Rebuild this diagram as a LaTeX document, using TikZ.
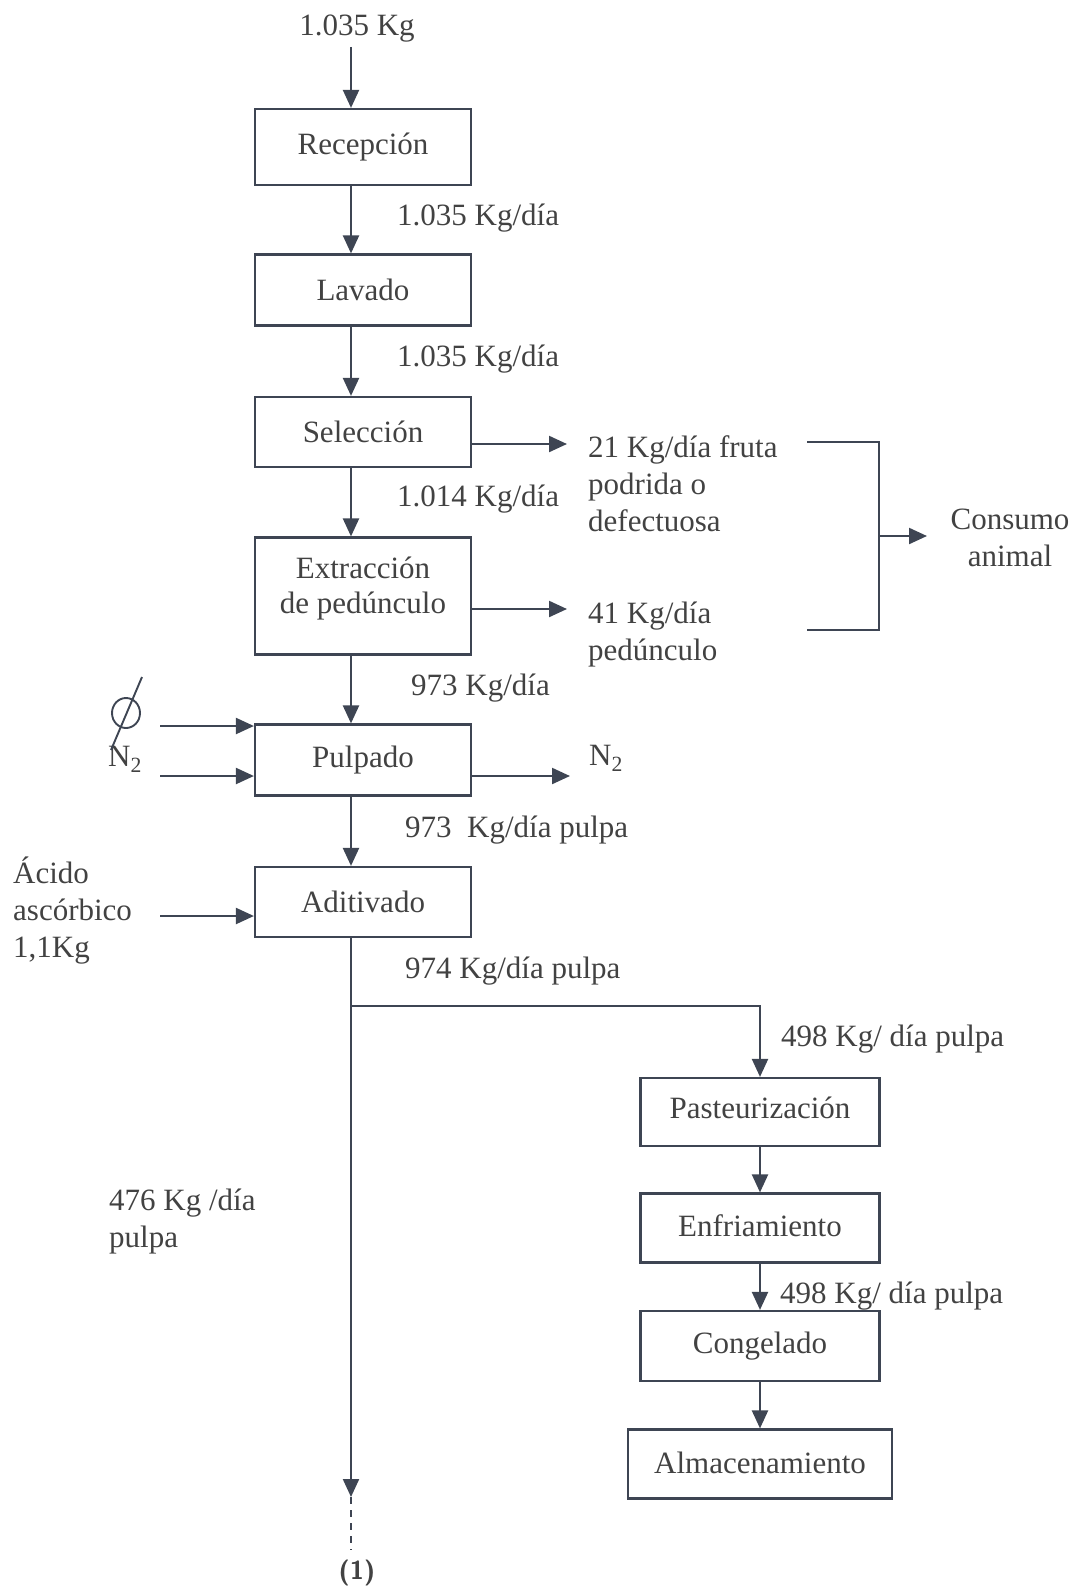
\documentclass[tikz,border=0pt]{standalone}
\usepackage{fontspec}
\setmainfont{Liberation Serif}
\usetikzlibrary{arrows.meta,calc}
\definecolor{ink}{HTML}{3E4553}
\definecolor{txt}{HTML}{424242}
\begin{document}
\begin{tikzpicture}[x=1pt,y=-1pt,
  every node/.style={font=\fontsize{31}{37}\selectfont, text=txt},
  box/.style={draw=ink, line width=2.2pt, minimum width=216pt, inner sep=0pt, align=center},
  rbox/.style={box, minimum width=239pt},
  flow/.style={draw=ink, line width=2.2pt, -{Triangle[length=18pt,width=16pt]}},
  plain/.style={draw=ink, line width=2.2pt},
  lbl/.style={anchor=west, align=left, inner sep=0pt},
]
\useasboundingbox (0,0) rectangle (1077,1588);

% main process column
\node[box, minimum height=76pt] (rec) at (363,147) {Recepción};
\node[box, minimum height=71pt] (lav) at (363,290) {Lavado};
\node[box, minimum height=70pt] (sel) at (363,432) {Selección};
\node[box, minimum height=117pt] (ext) at (363,596) {\raisebox{7pt}[\height][\depth]{\begin{tabular}{@{}c@{}}Extracción\\[-2pt]de pedúnculo\end{tabular}}};
\node[box, minimum height=71pt] (pul) at (363,760) {Pulpado};
\node[box, minimum height=70pt] (adi) at (363,902) {Aditivado};

% pulp branch column
\node[rbox, minimum height=68pt] (pas) at (760,1112) {\raisebox{8pt}{Pasteurización}};
\node[rbox, minimum height=69pt] (enf) at (760,1228) {\raisebox{4pt}{Enfriamiento}};
\node[rbox, minimum height=70pt] (con) at (760,1346) {\raisebox{3pt}{Congelado}};
\node[box, minimum width=264pt, minimum height=69pt] (alm) at (760,1464) {\raisebox{3pt}{Almacenamiento}};

% flow axis of the main column
\coordinate (mx) at (351,0);

% input
\node[inner sep=0pt] (inp) at (357,29) {1.035 Kg};
\draw[flow] (inp.south -| mx) ++(0,4) -- (rec.north -| mx);
\draw[flow] (rec.south -| mx) -- (lav.north -| mx);
\draw[flow] (lav.south -| mx) -- (sel.north -| mx);
\draw[flow] (sel.south -| mx) -- (ext.north -| mx);
\draw[flow] (ext.south -| mx) -- (pul.north -| mx);
\draw[flow] (pul.south -| mx) -- (adi.north -| mx);

% stream labels
\node[lbl] (l1) at (397,218) {1.035 Kg/día};
\node[lbl] (l2) at (397,359) {1.035 Kg/día};
\node[lbl] (l3) at (397,499) {1.014 Kg/día};
\node[lbl] (l4) at (411,688) {973 Kg/día};
\node[lbl] (l5) at (405,830) {973\ \ Kg/día pulpa};
\node[lbl] (l6) at (405,971) {974 Kg/día pulpa};

% by-products
\coordinate (selout) at (567,444);
\draw[flow] (sel.east |- selout) -- (selout);
\node[lbl, anchor=north west] (rot) at (588,435) {21 Kg/día fruta\\podrida o\\defectuosa};
\coordinate (extout) at (567,609);
\draw[flow] (ext.east |- extout) -- (extout);
\node[lbl, anchor=north west] (ped) at (588,602) {41 Kg/día\\pedúnculo};

% collector to animal feed
\coordinate (bt) at (807,442);
\coordinate (bb) at (807,630);
\coordinate (bx) at (879,536);
\coordinate (bend) at (927,536);
\draw[plain] (bt) -| (bx) |- (bb);
\draw[flow] (bx) -- (bend);
\node[align=center, inner sep=0pt] (cons) at (1010,538) {Consumo\\animal};

% nitrogen
\coordinate (n1) at (160,726);
\coordinate (n2) at (160,776);
\draw[flow] (n1) -- (pul.west |- n1);
\draw[flow] (n2) -- (pul.west |- n2);
\node[inner sep=0pt] (nin) at (125,759) {N\textsubscript{2}};
\draw[ink, line width=1.9pt] (126,713) ellipse (14pt and 15pt);
\draw[ink, line width=1.9pt] (142,677) -- (111,750);
\coordinate (nout) at (570,776);
\draw[flow] (pul.east |- nout) -- (nout);
\node[lbl] (nex) at (589,758) {N\textsubscript{2}};

% ascorbic acid
\coordinate (ac) at (160,916);
\draw[flow] (ac) -- (adi.west |- ac);
\node[lbl, anchor=north west] (acid) at (13,857) {Ácido\\ascórbico\\1,1Kg};

% split of the pulp
\coordinate (br) at (351,1006);
\coordinate (down) at (351,1497);
\coordinate (cont) at (351,1550);
\draw[flow] (adi.south -| mx) -- (down);
\draw[ink, line width=2.2pt, dash pattern=on 7pt off 6pt] (down) -- (cont);
\node[font=\fontsize{26}{30}\selectfont\sffamily\bfseries, inner sep=0pt] (one) at (357,1573) {(1)};
\node[lbl, anchor=north west] (rest) at (109,1189) {476 Kg /día\\pulpa};

\draw[flow] (br) -| (pas.north);
\node[lbl] (l7) at (781,1039) {498 Kg/ día pulpa};
\draw[flow] (pas) -- (enf);
\draw[flow] (enf) -- (con);
\node[lbl] (l8) at (780,1296) {498 Kg/ día pulpa};
\draw[flow] (con) -- (alm);
\end{tikzpicture}
\end{document}
